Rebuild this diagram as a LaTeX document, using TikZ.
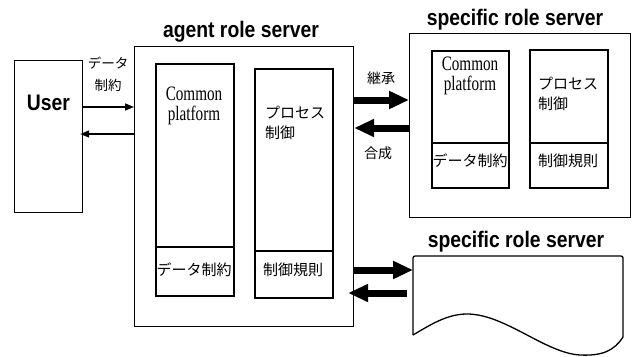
\documentclass[tikz,border=0pt]{standalone}
\usepackage{fontspec}
\usetikzlibrary{arrows.meta}
\newfontfamily\titlefont{Liberation Sans}[FakeStretch=0.86]
\newfontfamily\cpfont{Liberation Serif}[FakeStretch=0.74]
\newfontfamily\jpfont{Noto Sans CJK JP}
\begin{document}
\begin{tikzpicture}[x=1pt,y=-1pt,
  outerbox/.style={draw, line width=1.2pt, inner sep=0pt, anchor=north west},
  innerbox/.style={draw, line width=1.6pt, inner sep=0pt, anchor=north west},
  title/.style={inner sep=0pt, anchor=base, font=\titlefont\bfseries\fontsize{22.5}{24}\selectfont},
  cptext/.style={inner sep=0pt, anchor=base, align=center, font=\cpfont\fontsize{20.5}{20}\selectfont},
  jptext/.style={inner sep=0pt, font=\jpfont\fontsize{15}{19.5}\selectfont},
  jpsmall/.style={inner sep=0pt, align=center, font=\jpfont\fontsize{13.5}{22}\selectfont},
  thinarrow/.style={line width=1.5pt, -{Triangle[length=9pt,width=7pt]}},
  thickarrow/.style={line width=7pt, -{Triangle[length=20pt,width=17pt]}}]
\useasboundingbox (0,0) rectangle (637,356);

% User
\node[outerbox, minimum width=68pt, minimum height=152pt] (user) at (14,60) {};
\node[title] (userlbl) at (48.5,110) {User};

% agent role server
\node[title] (agenttitle) at (241,37) {agent role server};
\node[outerbox, minimum width=219pt, minimum height=280pt] (agent) at (134,46) {};
\node[innerbox, minimum width=78pt, minimum height=183pt] (acp) at (155,63) {};
\node[innerbox, minimum width=78pt, minimum height=49pt] (acpd) at (155,246) {};
\node[innerbox, minimum width=78pt, minimum height=182pt] (apc) at (254,68) {};
\node[innerbox, minimum width=78pt, minimum height=47pt] (apcr) at (254,250) {};
\node[cptext] (acptxt) at (194,120) {Common\\platform};
\node[jptext, anchor=west, align=left] (apctxt) at (265,123) {プロセス\\制御};
\node[jptext] (acpdtxt) at (194,270) {データ制約};
\node[jptext] (apcrtxt) at (293,270) {制御規則};

% top specific role server
\node[title] (spectitle) at (515,25) {specific role server};
\node[outerbox, minimum width=221pt, minimum height=184pt] (spec) at (409,33) {};
\node[innerbox, minimum width=77pt, minimum height=92pt] (scp) at (431,50) {};
\node[innerbox, minimum width=77pt, minimum height=45pt] (scpd) at (431,142) {};
\node[innerbox, minimum width=78pt, minimum height=93pt] (spc) at (529,49) {};
\node[innerbox, minimum width=78pt, minimum height=45pt] (spcr) at (529,142) {};
\node[cptext] (scptxt) at (470,90) {Common\\platform};
\node[jptext, anchor=west, align=left] (spctxt) at (538,94) {プロセス\\制御};
\node[jptext] (scpdtxt) at (470,161) {データ制約};
\node[jptext] (spcrtxt) at (568,161) {制御規則};

% bottom specific role server (document shape)
\node[title] (doctitle) at (516,247) {specific role server};
\node[inner sep=0pt, minimum width=210pt, minimum height=81pt, anchor=north west] (doc) at (413,256) {};
\draw[line width=1.3pt, rounded corners=2pt] (413,335) -- (413,256) -- (623,256) -- (623,337);
\draw[line width=1.3pt] (623,337) .. controls (614,351) and (602,356) .. (580,355)
  .. controls (545,353) and (505,314) .. (467,314)
  .. controls (447,314) and (430,325) .. (413,335);

% labels
\node[jpsmall] (datalbl) at (108,74) {データ\\制約};
\node[jptext, font=\jpfont\fontsize{14}{16}\selectfont] (inherit) at (381,78) {継承};
\node[jptext, font=\jpfont\fontsize{14}{16}\selectfont] (compose) at (378,153) {合成};

% arrow levels
\coordinate (u1) at (0,107);
\coordinate (u2) at (0,134);
\coordinate (s1) at (0,100);
\coordinate (s2) at (0,128);
\coordinate (d1) at (0,270);
\coordinate (d2) at (0,293);

\draw[thinarrow] (user.east |- u1) -- (agent.west |- u1);
\draw[thinarrow, shorten >=-3pt] (agent.west |- u2) -- (user.east |- u2);
\draw[thickarrow] (agent.east |- s1) -- (spec.west |- s1);
\draw[thickarrow] (spec.west |- s2) -- (agent.east |- s2);
\draw[thickarrow] (agent.east |- d1) -- (doc.west |- d1);
\draw[thickarrow, shorten <=6pt, shorten >=-6pt] (doc.west |- d2) -- (agent.east |- d2);
\end{tikzpicture}
\end{document}
